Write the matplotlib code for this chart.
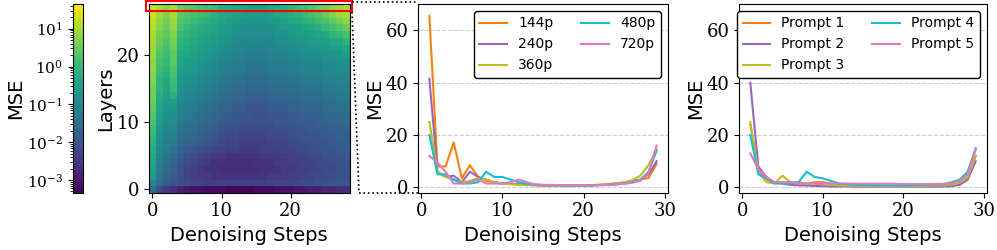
import numpy as np
import matplotlib
matplotlib.use("Agg")
import matplotlib.pyplot as plt
from matplotlib.colors import LogNorm
from matplotlib.patches import Rectangle
from matplotlib.lines import Line2D

plt.rcParams["font.family"] = "DejaVu Serif"

# heatmap: log10(MSE), one row per layer (0 = bottom), one column per step 0..28
log_mse = [
    [-1.6, -2.2, -2.5, -2.7, -2.9, -3.0, -3.1, -3.1, -3.2, -3.2, -3.2, -3.3, -3.3, -3.3, -3.3, -3.2, -3.2, -3.2, -3.1, -3.1, -3.1, -3.0, -3.0, -2.9, -2.9, -2.8, -2.8, -2.7, -2.7],
    [-1.0, -1.6, -1.9, -2.0, -2.1, -2.2, -2.3, -2.3, -2.4, -2.4, -2.4, -2.4, -2.4, -2.4, -2.4, -2.4, -2.4, -2.3, -2.3, -2.3, -2.3, -2.2, -2.2, -2.2, -2.1, -2.1, -2.0, -2.0, -2.0],
    [-0.6, -1.4, -1.7, -1.9, -2.1, -2.3, -2.4, -2.5, -2.5, -2.6, -2.6, -2.6, -2.6, -2.6, -2.6, -2.6, -2.6, -2.5, -2.5, -2.5, -2.4, -2.4, -2.3, -2.3, -2.2, -2.2, -2.1, -2.1, -2.1],
    [-0.5, -1.3, -1.6, -1.8, -2.1, -2.3, -2.4, -2.5, -2.6, -2.6, -2.7, -2.7, -2.7, -2.7, -2.7, -2.7, -2.6, -2.6, -2.6, -2.5, -2.5, -2.4, -2.4, -2.3, -2.3, -2.2, -2.2, -2.1, -2.1],
    [-0.4, -1.2, -1.5, -1.7, -2.0, -2.2, -2.3, -2.4, -2.5, -2.6, -2.6, -2.7, -2.7, -2.7, -2.7, -2.6, -2.6, -2.6, -2.5, -2.5, -2.4, -2.4, -2.3, -2.3, -2.2, -2.2, -2.1, -2.1, -2.0],
    [-0.3, -1.1, -1.4, -1.6, -1.9, -2.1, -2.2, -2.3, -2.4, -2.5, -2.5, -2.6, -2.6, -2.6, -2.6, -2.6, -2.5, -2.5, -2.5, -2.4, -2.4, -2.3, -2.3, -2.2, -2.2, -2.1, -2.1, -2.0, -2.0],
    [-0.2, -1.0, -1.3, -1.4, -1.7, -1.9, -2.0, -2.1, -2.2, -2.3, -2.3, -2.4, -2.4, -2.5, -2.5, -2.5, -2.4, -2.4, -2.4, -2.3, -2.3, -2.2, -2.2, -2.1, -2.1, -2.0, -2.0, -1.9, -1.9],
    [-0.1, -0.9, -1.2, -1.2, -1.6, -1.7, -1.8, -1.9, -2.0, -2.1, -2.2, -2.3, -2.3, -2.4, -2.4, -2.4, -2.4, -2.3, -2.3, -2.3, -2.2, -2.2, -2.1, -2.1, -2.0, -2.0, -1.9, -1.9, -1.8],
    [0.0, -0.8, -1.1, -1.1, -1.5, -1.6, -1.7, -1.8, -1.9, -2.0, -2.1, -2.2, -2.2, -2.3, -2.3, -2.3, -2.3, -2.2, -2.2, -2.2, -2.1, -2.1, -2.0, -2.0, -2.0, -1.9, -1.9, -1.8, -1.8],
    [0.1, -0.7, -1.0, -1.0, -1.4, -1.5, -1.6, -1.7, -1.8, -1.9, -2.0, -2.1, -2.1, -2.2, -2.2, -2.2, -2.2, -2.2, -2.1, -2.1, -2.1, -2.0, -2.0, -1.9, -1.9, -1.9, -1.8, -1.8, -1.7],
    [0.2, -0.6, -0.9, -0.9, -1.3, -1.4, -1.5, -1.6, -1.7, -1.8, -1.9, -2.0, -2.0, -2.1, -2.1, -2.1, -2.1, -2.1, -2.0, -2.0, -2.0, -1.9, -1.9, -1.9, -1.8, -1.8, -1.7, -1.7, -1.6],
    [0.3, -0.5, -0.8, -0.8, -1.2, -1.3, -1.4, -1.5, -1.6, -1.7, -1.8, -1.9, -2.0, -2.0, -2.0, -2.1, -2.1, -2.0, -2.0, -2.0, -1.9, -1.9, -1.8, -1.8, -1.8, -1.7, -1.7, -1.6, -1.6],
    [0.4, -0.4, -0.7, -0.7, -1.1, -1.2, -1.3, -1.4, -1.5, -1.6, -1.7, -1.8, -1.9, -1.9, -2.0, -2.0, -2.0, -1.9, -1.9, -1.9, -1.8, -1.8, -1.7, -1.7, -1.7, -1.6, -1.6, -1.5, -1.5],
    [0.5, -0.3, -0.6, -0.5, -1.0, -1.1, -1.2, -1.3, -1.4, -1.5, -1.6, -1.7, -1.8, -1.8, -1.9, -1.9, -1.9, -1.8, -1.8, -1.8, -1.7, -1.7, -1.6, -1.6, -1.6, -1.5, -1.5, -1.4, -1.4],
    [0.6, -0.2, -0.5, -0.2, -0.9, -1.0, -1.1, -1.2, -1.3, -1.4, -1.5, -1.6, -1.7, -1.7, -1.8, -1.8, -1.8, -1.7, -1.7, -1.7, -1.6, -1.6, -1.5, -1.5, -1.5, -1.4, -1.4, -1.3, -1.3],
    [0.6, -0.1, -0.4, 0.0, -0.8, -0.9, -1.0, -1.1, -1.2, -1.3, -1.4, -1.5, -1.6, -1.6, -1.7, -1.7, -1.7, -1.6, -1.6, -1.6, -1.5, -1.5, -1.4, -1.4, -1.4, -1.3, -1.3, -1.2, -1.2],
    [0.7, -0.1, -0.3, 0.1, -0.7, -0.8, -0.9, -1.0, -1.1, -1.2, -1.3, -1.4, -1.5, -1.5, -1.6, -1.6, -1.6, -1.5, -1.5, -1.5, -1.4, -1.4, -1.3, -1.3, -1.3, -1.2, -1.2, -1.1, -1.1],
    [0.7, 0.0, -0.2, 0.2, -0.6, -0.7, -0.8, -0.9, -1.0, -1.1, -1.2, -1.3, -1.4, -1.4, -1.5, -1.5, -1.5, -1.4, -1.4, -1.4, -1.3, -1.3, -1.2, -1.2, -1.2, -1.1, -1.1, -1.0, -1.0],
    [0.8, 0.1, -0.1, 0.3, -0.5, -0.6, -0.7, -0.8, -0.9, -1.0, -1.1, -1.2, -1.3, -1.3, -1.4, -1.4, -1.4, -1.3, -1.3, -1.3, -1.2, -1.2, -1.1, -1.1, -1.1, -1.0, -1.0, -0.9, -0.9],
    [0.8, 0.2, 0.0, 0.4, -0.4, -0.5, -0.6, -0.7, -0.8, -0.9, -1.0, -1.1, -1.2, -1.2, -1.3, -1.3, -1.3, -1.2, -1.2, -1.2, -1.1, -1.1, -1.0, -1.0, -1.0, -0.9, -0.9, -0.8, -0.8],
    [0.9, 0.3, 0.1, 0.4, -0.3, -0.4, -0.5, -0.6, -0.7, -0.8, -0.9, -1.0, -1.1, -1.1, -1.2, -1.2, -1.2, -1.1, -1.1, -1.1, -1.0, -1.0, -0.9, -0.9, -0.9, -0.8, -0.8, -0.7, -0.6],
    [0.9, 0.4, 0.2, 0.5, -0.2, -0.3, -0.4, -0.5, -0.6, -0.7, -0.8, -0.9, -1.0, -1.0, -1.1, -1.1, -1.1, -1.0, -1.0, -1.0, -0.9, -0.9, -0.8, -0.8, -0.7, -0.7, -0.6, -0.5, -0.4],
    [1.0, 0.5, 0.3, 0.6, -0.1, -0.2, -0.3, -0.4, -0.5, -0.6, -0.7, -0.8, -0.9, -1.0, -1.0, -1.0, -1.0, -1.0, -0.9, -0.9, -0.8, -0.7, -0.7, -0.6, -0.6, -0.5, -0.4, -0.3, -0.1],
    [1.0, 0.6, 0.4, 0.7, 0.0, -0.1, -0.2, -0.3, -0.4, -0.5, -0.6, -0.7, -0.8, -0.9, -0.9, -0.9, -0.9, -0.9, -0.8, -0.8, -0.7, -0.6, -0.6, -0.5, -0.4, -0.3, -0.1, 0.0, 0.2],
    [1.1, 0.7, 0.5, 0.8, 0.2, 0.0, -0.1, -0.2, -0.3, -0.4, -0.5, -0.6, -0.7, -0.8, -0.8, -0.8, -0.8, -0.8, -0.7, -0.6, -0.6, -0.5, -0.4, -0.3, -0.2, 0.0, 0.2, 0.3, 0.5],
    [1.2, 0.8, 0.6, 0.9, 0.3, 0.2, 0.0, -0.1, -0.2, -0.3, -0.4, -0.5, -0.6, -0.7, -0.7, -0.7, -0.7, -0.6, -0.6, -0.5, -0.4, -0.3, -0.2, -0.1, 0.1, 0.2, 0.4, 0.6, 0.8],
    [1.3, 0.9, 0.7, 1.0, 0.4, 0.3, 0.2, 0.1, 0.0, -0.2, -0.3, -0.4, -0.5, -0.5, -0.6, -0.6, -0.6, -0.5, -0.4, -0.3, -0.2, -0.1, 0.0, 0.2, 0.3, 0.5, 0.7, 0.9, 1.0],
    [1.3, 1.0, 0.8, 1.0, 0.5, 0.4, 0.3, 0.2, 0.1, 0.0, -0.2, -0.3, -0.4, -0.4, -0.5, -0.5, -0.5, -0.4, -0.3, -0.2, -0.1, 0.0, 0.1, 0.3, 0.5, 0.6, 0.8, 0.9, 1.0],
]

steps = list(range(1, 30))

res_labels = ["144p", "240p", "360p", "480p", "720p"]
res_144 = [65.5, 8, 8, 17.2, 3.5, 8.5, 4, 2.5, 2, 1.5, 1.5, 1.2, 1.0, 0.9, 0.8, 0.8, 0.8, 0.7, 0.7, 0.8, 0.9, 1.1, 1.3, 1.6, 2.0, 2.4, 3.0, 3.6, 9.0]
res_240 = [41.5, 6, 4, 4.5, 2, 6, 4, 3, 2, 1.5, 1.4, 1.2, 1.0, 0.9, 0.8, 0.8, 0.7, 0.7, 0.7, 0.7, 0.8, 0.9, 1.0, 1.2, 1.5, 2.0, 2.8, 5.0, 10.0]
res_360 = [25, 6, 4, 3, 2, 2.5, 3.5, 3, 2, 1.5, 1.2, 1.0, 0.9, 0.8, 0.7, 0.7, 0.6, 0.6, 0.6, 0.7, 0.8, 0.9, 1.1, 1.4, 1.9, 2.8, 4.5, 8.5, 14.5]
res_480 = [20, 5, 5, 3, 1.5, 1.5, 2, 6, 4, 4, 3, 2, 1.4, 1.1, 0.9, 0.8, 0.8, 0.7, 0.7, 0.7, 0.8, 0.9, 1.0, 1.2, 1.5, 2.0, 3.0, 6.0, 14.0]
res_720 = [12, 9.5, 6, 1.5, 1.5, 2, 3, 1.5, 1.5, 1.5, 2, 3, 2, 1.2, 1.0, 1.0, 0.9, 0.8, 0.8, 0.8, 0.8, 0.9, 1.0, 1.2, 1.4, 1.8, 2.6, 5.5, 16.0]

prompt_labels = ["Prompt 1", "Prompt 2", "Prompt 3", "Prompt 4", "Prompt 5"]
prompt_1 = [24, 7, 3, 2, 2, 2, 1.5, 1.5, 2, 2, 1.5, 1.2, 1.0, 0.8, 0.7, 0.7, 0.6, 0.6, 0.6, 0.6, 0.6, 0.7, 0.7, 0.8, 0.9, 1.2, 1.8, 3.5, 12.0]
prompt_2 = [40, 8, 4, 2, 1.5, 1.0, 0.8, 0.7, 0.6, 0.5, 0.4, 0.4, 0.4, 0.3, 0.3, 0.3, 0.3, 0.3, 0.3, 0.3, 0.3, 0.3, 0.3, 0.3, 0.4, 0.5, 1.0, 3.0, 10.0]
prompt_3 = [25, 6, 2, 1.5, 4.5, 2, 2, 1.5, 1.5, 1.2, 1.0, 0.8, 0.7, 0.6, 0.6, 0.5, 0.5, 0.5, 0.5, 0.5, 0.5, 0.5, 0.6, 0.7, 0.8, 1.1, 1.8, 4.0, 12.0]
prompt_4 = [20, 5, 3.5, 1.5, 1.5, 1.5, 2, 6, 4, 3.5, 2.5, 1.5, 1.2, 1.0, 0.9, 0.8, 0.8, 0.8, 0.8, 0.8, 0.8, 0.9, 1.0, 1.1, 1.3, 2.0, 3.0, 6.0, 15.0]
prompt_5 = [13, 7, 4, 2, 2, 2, 1.5, 1.5, 1.5, 1.5, 1.5, 1.5, 1.5, 1.4, 1.4, 1.4, 1.4, 1.4, 1.4, 1.3, 1.3, 1.3, 1.3, 1.3, 1.4, 1.6, 2.4, 5.0, 14.5]

line_colors = ["tab:orange", "tab:purple", "tab:olive", "tab:cyan", "tab:pink"]

W, H = 997, 250
fig = plt.figure(figsize=(W / 100, H / 100), dpi=100)


def box(x0, x1, y0, y1):
    # pixel box (from top) -> figure fraction
    return [x0 / W, 1 - y1 / H, (x1 - x0) / W, (y1 - y0) / H]


cax = fig.add_axes(box(72.7, 82.7, 4, 192.7))
ax0 = fig.add_axes(box(149, 349.5, 4, 192.7))
ax1 = fig.add_axes(box(418, 668, 4, 192.7))
ax2 = fig.add_axes(box(739, 987, 4, 192.7))

sans = "DejaVu Sans"
label_fs = 14
tick_fs = 13

# heatmap
mse = 10.0 ** np.array(log_mse)
im = ax0.imshow(mse, origin="lower", aspect="auto", cmap="viridis",
                norm=LogNorm(vmin=4.6e-4, vmax=45), interpolation="nearest")
ax0.set_xticks([0, 10, 20])
ax0.set_yticks([0, 10, 20])
ax0.set_xlabel("Denoising Steps", family=sans, fontsize=label_fs)
ax0.set_ylabel("Layers", family=sans, fontsize=label_fs, labelpad=1)
ax0.tick_params(labelsize=tick_fs)

ax0.add_patch(Rectangle((-0.9, 26.4), 29.7, 1.5, fill=False, edgecolor="red",
                        linewidth=1.5, clip_on=False, zorder=5))

cb = fig.colorbar(im, cax=cax)
cax.yaxis.set_ticks_position("left")
cax.yaxis.set_label_position("left")
cb.set_label("MSE", family=sans, fontsize=label_fs, labelpad=1)
cax.tick_params(labelsize=tick_fs - 2)

# dotted zoom connector
def px(x, y):
    return x / W, 1 - y / H

for (xa, ya), (xb, yb) in [((352, 2.3), (418, 2.3)),
                           ((352, 12), (359, 193)),
                           ((359, 193), (418, 193))]:
    (fx0, fy0), (fx1, fy1) = px(xa, ya), px(xb, yb)
    fig.add_artist(Line2D([fx0, fx1], [fy0, fy1], transform=fig.transFigure,
                          color="black", linestyle=":", linewidth=1.2))

# line panels
panels = [
    (ax1, [res_144, res_240, res_360, res_480, res_720], res_labels),
    (ax2, [prompt_1, prompt_2, prompt_3, prompt_4, prompt_5], prompt_labels),
]
for ax, series, labels in panels:
    for vals, lab, col in zip(series, labels, line_colors):
        ax.plot(steps, vals, color=col, label=lab, linewidth=1.5)
    ax.set_ylim(-2, 70)
    ax.set_yticks([0, 20, 40, 60])
    ax.set_xticks([0, 10, 20, 30])
    ax.grid(True, axis="y", linestyle="--", color="gray", alpha=0.4)
    ax.set_xlabel("Denoising Steps", family=sans, fontsize=label_fs)
    ax.set_ylabel("MSE", family=sans, fontsize=label_fs, labelpad=1)
    ax.tick_params(labelsize=tick_fs)
    leg = ax.legend(ncol=2, loc="upper right", prop={"family": sans, "size": 10},
                    fancybox=True, framealpha=1.0)
    leg.get_frame().set_edgecolor("black")

fig.savefig("out.png", dpi=100)
plt.close()
